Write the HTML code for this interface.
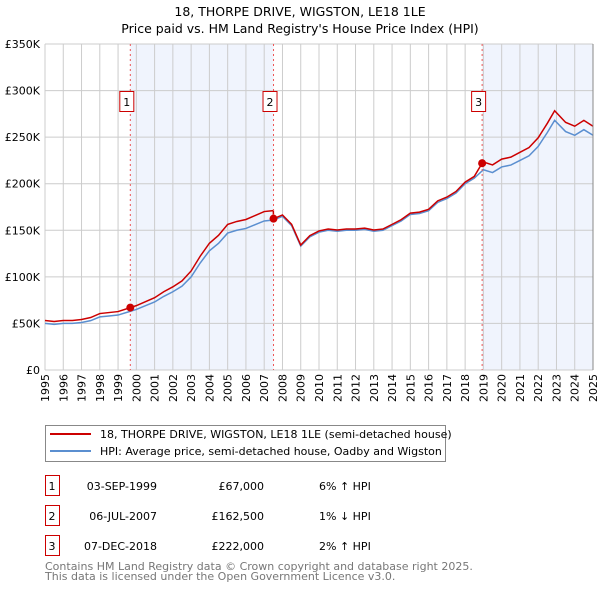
<!DOCTYPE html>
<html><head><meta charset="utf-8"><style>
body{margin:0;background:#fff;font-family:"DejaVu Sans","Liberation Sans",sans-serif;}
svg text{font-family:"DejaVu Sans","Liberation Sans",sans-serif;}
</style></head><body>
<svg id="c" width="600" height="590" xmlns="http://www.w3.org/2000/svg">
<text x="300" y="16" text-anchor="middle" font-size="12.5">18, THORPE DRIVE, WIGSTON, LE18 1LE</text>
<text x="300" y="33" text-anchor="middle" font-size="12.5">Price paid vs. HM Land Registry's House Price Index (HPI)</text>
<g id="plot"></g>
<g>
<rect x="45.5" y="425.5" width="400" height="36" fill="#fff" stroke="#888"/>
<line x1="50" y1="434" x2="91" y2="434" stroke="#cc0000" stroke-width="2"/>
<text x="100" y="438" font-size="11">18, THORPE DRIVE, WIGSTON, LE18 1LE (semi-detached house)</text>
<line x1="50" y1="451" x2="91" y2="451" stroke="#5b8fd0" stroke-width="2"/>
<text x="100" y="455" font-size="11">HPI: Average price, semi-detached house, Oadby and Wigston</text>
</g>
<g id="tbl" font-size="11"></g>
<text x="45" y="570" font-size="11" fill="#777">Contains HM Land Registry data © Crown copyright and database right 2025.</text>
<text x="45" y="580" font-size="11" fill="#777">This data is licensed under the Open Government Licence v3.0.</text>
</svg>
<script>
const hpiYears=[1995,1995.5,1996,1996.5,1997,1997.5,1998,1998.5,1999,1999.5,2000,2000.5,2001,2001.5,2002,2002.5,2003,2003.5,2004,2004.5,2005,2005.5,2006,2006.5,2007,2007.5,2008,2008.5,2009,2009.5,2010,2010.5,2011,2011.5,2012,2012.5,2013,2013.5,2014,2014.5,2015,2015.5,2016,2016.5,2017,2017.5,2018,2018.5,2019,2019.5,2020,2020.5,2021,2021.5,2022,2022.5,2022.9,2023.5,2024,2024.5,2025];
const hpiValues=[50,49,50,50,51,53,57,58,59,62,65,69,73,79,84,90,100,115,128,136,147,150,152,156,160,161,165,155,133,143,148,150,149,150,150,151,149,150,155,160,167,168,171,180,184,190,200,206,215,212,218,220,225,230,240,255,268,256,252,258,252];
const saleLabels=["1","2","3"];
const saleYears=[1999.67,2007.51,2018.93];
const salePrices=[67000,162500,222000];
const saleDates=["03-SEP-1999","06-JUL-2007","07-DEC-2018"];
const salePriceText=["£67,000","£162,500","£222,000"];
const saleHpiText=["6% ↑ HPI","1% ↓ HPI","2% ↑ HPI"];
const yTicks=[0,50,100,150,200,250,300,350];
const yTickLabels=["£0","£50K","£100K","£150K","£200K","£250K","£300K","£350K"];
const xTicks=[];for(let y=1995;y<=2025;y++)xTicks.push(y);

const X0=45,X1=593,Y0=370,Y1=44;
const sx=t=>X0+(t-1995)/30*(X1-X0);
const sy=v=>Y0-v/350*(Y0-Y1);
const NS="http://www.w3.org/2000/svg";
const plot=document.getElementById('plot');
function mk(tag,attrs,parent){const e=document.createElementNS(NS,tag);for(const k in attrs)e.setAttribute(k,attrs[k]);(parent||plot).appendChild(e);return e;}
function hpiAt(t){for(let i=0;i<hpiYears.length-1;i++){if(t<=hpiYears[i+1]){const f=(t-hpiYears[i])/(hpiYears[i+1]-hpiYears[i]);return hpiValues[i]+f*(hpiValues[i+1]-hpiValues[i]);}}return hpiValues[hpiValues.length-1];}

let s1=mk('rect',{x:sx(saleYears[0]),y:Y1,width:sx(saleYears[1])-sx(saleYears[0]),height:Y0-Y1,fill:'#f0f4fd'});


let s2=mk('rect',{x:sx(saleYears[2]),y:Y1,width:X1-sx(saleYears[2]),height:Y0-Y1,fill:'#f0f4fd'});


xTicks.forEach(t=>{const l=mk('line',{x1:sx(t),x2:sx(t),y1:Y1,y2:Y0,stroke:'#ccc'});


const tx=mk('text',{transform:`translate(${sx(t)+4},${Y0+32}) rotate(-90)`,'font-size':11});tx.textContent=t;

});
yTicks.forEach((v,i)=>{const l=mk('line',{x1:X0,x2:X1,y1:sy(v),y2:sy(v),stroke:'#ccc'});


const tx=mk('text',{x:X0-5,y:sy(v)+4,'text-anchor':'end','font-size':11});tx.textContent=yTickLabels[i];

});
let hp=mk('polyline',{points:hpiYears.map((t,i)=>sx(t)+','+sy(hpiValues[i])).join(' '),fill:'none',stroke:'#5b8fd0','stroke-width':1.5});


const pts=[];
const ts=[...hpiYears];saleYears.forEach(t=>ts.push(t));ts.sort((a,b)=>a-b);
ts.forEach(t=>{let k=0;for(let j=0;j<saleYears.length;j++)if(t>=saleYears[j])k=j;const v=salePrices[k]/1000*hpiAt(t)/hpiAt(saleYears[k]);pts.push(sx(t)+','+sy(v));});
let pl=mk('polyline',{points:pts.join(' '),fill:'none',stroke:'#cc0000','stroke-width':1.5});


saleYears.forEach((t,i)=>{const x=sx(t);
const vl=mk('line',{x1:x,x2:x,y1:Y1,y2:Y0,stroke:'#ee5555','stroke-dasharray':'2,3'});


const c=mk('circle',{cx:x,cy:sy(salePrices[i]/1000),r:4,fill:'#cc0000'});


const b=mk('rect',{x:x-10.5,y:91.5,width:14,height:20,fill:'#fff',stroke:'#cc0000'});


const tx=mk('text',{x:x-3.5,y:106,'text-anchor':'middle','font-size':11});tx.textContent=saleLabels[i];

});
let ax=mk('line',{x1:X1,x2:X1,y1:Y1,y2:Y0,stroke:'#888'});


const tbl=document.getElementById('tbl');
saleLabels.forEach((s,i)=>{const y=475+i*30;
const r=mk('rect',{x:45.5,y:y+0.5,width:14,height:20,fill:'#fff',stroke:'#cc0000'},tbl);


const cells=[[52,'middle',s],[157,'end',saleDates[i]],[264,'end',salePriceText[i]],[319,'start',saleHpiText[i]]];
cells.forEach((c,j)=>{const tx=mk('text',{x:c[0],y:y+15,'text-anchor':c[1]},tbl);tx.textContent=c[2];

});});
</script>
</body></html>
